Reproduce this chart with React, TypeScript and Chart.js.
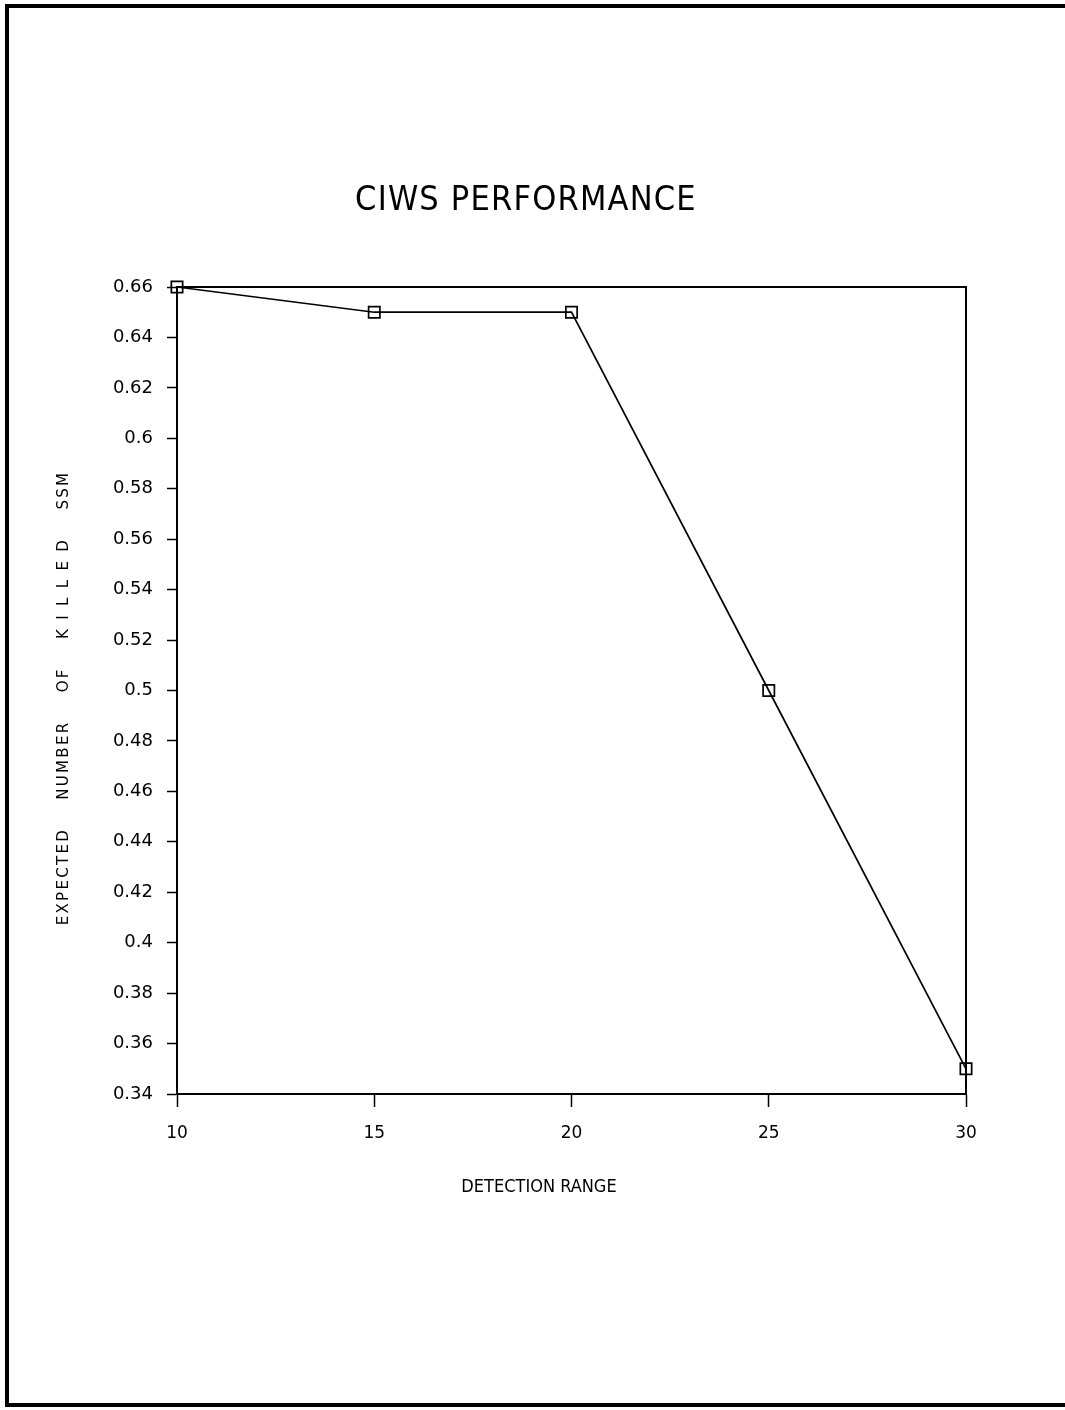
import React, { useEffect, useRef } from "react";
import { Chart, registerables } from "chart.js";

Chart.register(...registerables);

// ---- data ----
const detectionRange = [10, 15, 20, 25, 30];
const expectedKilled = [0.66, 0.65, 0.65, 0.5, 0.35];
const yMin = 0.34;
const yMax = 0.66;
const yStep = 0.02;
const xMin = 10;
const xMax = 30;
const xStep = 5;
const chartTitle = "CIWS PERFORMANCE";
const xTitle = "DETECTION RANGE";
const yTitle = "EXPECTED    NUMBER    OF    K I L L E D    SSM";

const W = 1065;
const H = 1410;

const decorPlugin = {
  id: "decor",
  afterDraw(chart: any) {
    const { ctx, chartArea: a } = chart;
    ctx.save();
    // plot box top & right
    ctx.strokeStyle = "#000";
    ctx.lineWidth = 2;
    ctx.beginPath();
    ctx.moveTo(a.left, a.top);
    ctx.lineTo(a.right, a.top);
    ctx.lineTo(a.right, a.bottom);
    ctx.stroke();
    // page border (left, top, bottom)
    ctx.lineWidth = 4;
    ctx.beginPath();
    ctx.moveTo(W, 6);
    ctx.lineTo(7, 6);
    ctx.lineTo(7, 1405);
    ctx.lineTo(W, 1405);
    ctx.stroke();
    // title
    ctx.fillStyle = "#000";
    ctx.textAlign = "center";
    ctx.textBaseline = "alphabetic";
    ctx.font = '34px "DejaVu Sans Condensed", "DejaVu Sans", sans-serif';
    (ctx as any).letterSpacing = "1.2px";
    ctx.fillText(chartTitle, 526, 210);
    // x title
    ctx.font = '18px "DejaVu Sans Condensed", "DejaVu Sans", sans-serif';
    (ctx as any).letterSpacing = "0px";
    ctx.fillText(xTitle, 539, 1192);
    // y title
    ctx.translate(68, 698);
    ctx.rotate(-Math.PI / 2);
    ctx.font = '15px "DejaVu Sans", sans-serif';
    (ctx as any).letterSpacing = "2.3px";
    ctx.fillText(yTitle, 0, 0);
    ctx.restore();
  },
};

export default function App() {
  const ref = useRef<HTMLCanvasElement | null>(null);
  useEffect(() => {
    if (!ref.current) return;
    const chart = new Chart(ref.current, {
      type: "line",
      data: {
        datasets: [
          {
            data: detectionRange.map((x, i) => ({ x, y: expectedKilled[i] })),
            borderColor: "#000",
            borderWidth: 1.7,
            pointStyle: "rect",
            pointRadius: 8,
            pointBorderWidth: 1.7,
            pointBorderColor: "#000",
            pointBackgroundColor: "rgba(0,0,0,0)",
            clip: false as any,
            tension: 0,
          },
        ],
      },
      options: {
        animation: false,
        responsive: false,
        devicePixelRatio: 1,
        layout: { padding: { left: 0, right: 99, top: 287, bottom: 200 } },
        plugins: {
          legend: { display: false },
          tooltip: { enabled: false },
          title: { display: false },
        },
        scales: {
          x: {
            type: "linear",
            min: xMin,
            max: xMax,
            ticks: {
              stepSize: xStep,
              color: "#000",
              font: { family: '"DejaVu Sans", sans-serif', size: 17 },
              padding: 16,
              maxRotation: 0,
            },
            grid: {
              drawOnChartArea: false,
              drawTicks: true,
              tickLength: 13,
              tickWidth: 1.5,
              tickColor: "#000",
            },
            border: { display: true, color: "#000", width: 2 },
            afterFit: (s: any) => {
              s.height = 116;
            },
          },
          y: {
            type: "linear",
            min: yMin,
            max: yMax,
            ticks: {
              stepSize: yStep,
              color: "#000",
              font: { family: '"DejaVu Sans", sans-serif', size: 18 },
              padding: 14,
              callback: (v: any) => String(Number(Number(v).toFixed(2))),
            },
            grid: {
              drawOnChartArea: false,
              drawTicks: true,
              tickLength: 10,
              tickWidth: 1.5,
              tickColor: "#000",
            },
            border: { display: true, color: "#000", width: 2 },
            afterFit: (s: any) => {
              s.width = 177;
            },
          },
        },
      },
      plugins: [decorPlugin],
    });
    return () => chart.destroy();
  }, []);
  return (
    <div style={{ position: "absolute", left: 0, top: 0, width: W, height: H, background: "#fff" }}>
      <canvas ref={ref} width={W} height={H} style={{ display: "block" }} />
    </div>
  );
}
